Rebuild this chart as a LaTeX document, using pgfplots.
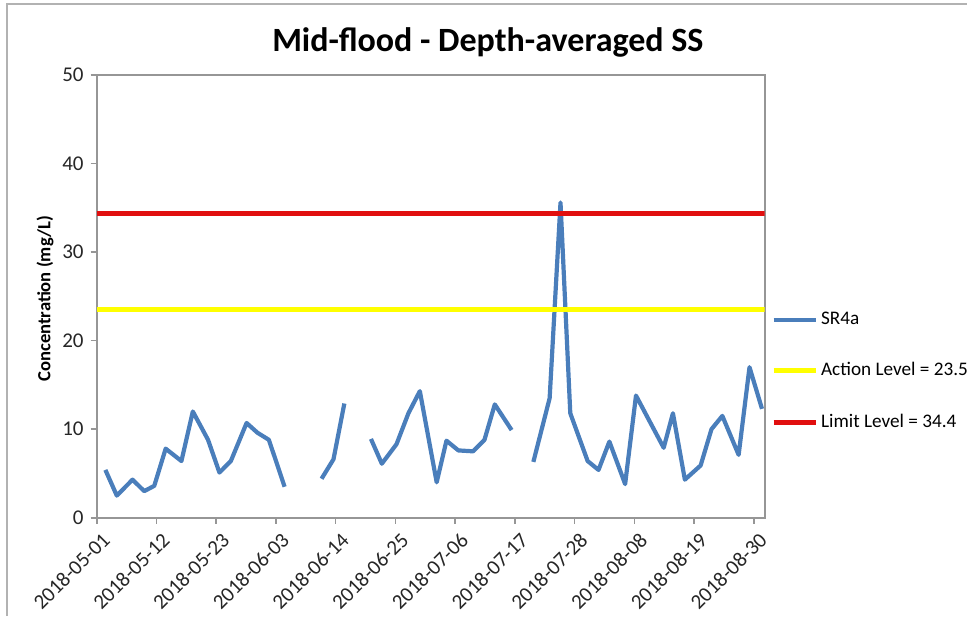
\documentclass[border=0pt]{standalone}
\usepackage{pgfplots}
\pgfplotsset{compat=1.18}
\usepackage{fontspec}
\setmainfont{Carlito}

\definecolor{srblue}{RGB}{74,126,187}
\definecolor{actyellow}{RGB}{255,255,0}
\definecolor{limred}{RGB}{225,15,15}
\definecolor{axgray}{RGB}{150,150,150}

\begin{document}
\begin{tikzpicture}
\begin{axis}[
    scale only axis,
    width=334pt, height=221.3pt,
    xmin=0, xmax=123,
    ymin=0, ymax=50,
    xtick={0,11,22,33,44,55,66,77,88,99,110,121},
    xticklabels={2018-05-01,2018-05-12,2018-05-23,2018-06-03,2018-06-14,2018-06-25,
                 2018-07-06,2018-07-17,2018-07-28,2018-08-08,2018-08-19,2018-08-30},
    ytick={0,10,20,30,40,50},
    tick align=outside,
    major tick length=3pt,
    xtick pos=bottom, ytick pos=left,
    axis line style={axgray, line width=0.8pt},
    tick style={axgray, line width=0.8pt},
    /pgf/number format/assume math mode=true,
    ticklabel style={font=\fontsize{10.5}{12}\selectfont, text=black!85},
    xticklabel style={rotate=45, anchor=north east, inner sep=1pt, yshift=-3pt},
    ylabel={Concentration (mg/L)},
    ylabel style={at={(axis description cs:-0.0775,0.495)}, anchor=center,
                  font=\bfseries\fontsize{9.3}{11}\selectfont},
    unbounded coords=jump,
    legend style={at={(1.0,0.331)}, anchor=west, draw=none, fill=none,
                  font=\fontsize{9.6}{11}\selectfont, row sep=13.5pt,
                  nodes={inner xsep=1.5pt}},
    legend cell align=left,
    legend image code/.code={\draw[#1] (0pt,0pt) -- (21pt,0pt);},
]
\addplot[srblue, line width=2.1pt, line join=round] coordinates {
    (1.6,5.4)(3.7,2.5)(6.6,4.3)(8.75,3.0)(10.6,3.6)(12.7,7.8)(15.6,6.4)
    (17.7,12.0)(20.5,8.8)(22.6,5.1)(24.7,6.4)(27.6,10.7)(29.6,9.6)(31.7,8.8)
    (34.6,3.5)(37.5,nan)
    (41.4,4.4)(43.6,6.6)(45.6,12.9)(48,nan)
    (50.5,8.9)(52.5,6.1)(55.2,8.3)(57.4,11.8)(59.5,14.3)(62.6,4.0)(64.4,8.7)
    (66.6,7.6)(69.3,7.5)(71.4,8.8)(73.3,12.8)(76.4,9.9)(78.5,nan)
    (80.4,6.3)(83.4,13.5)(85.4,35.6)(87.2,11.8)(90.4,6.4)(92.4,5.4)(94.4,8.6)
    (97.3,3.8)(99.3,13.8)(101.8,10.9)(104.4,7.9)(106.1,11.8)(108.3,4.3)
    (111.2,5.9)(113.2,10.0)(115.2,11.5)(118.2,7.1)(120.2,17.0)(122.5,12.3)
};
\addlegendentry{SR4a}
\addplot[actyellow, line width=2.5pt] coordinates {(0,23.5)(123,23.5)};
\addlegendentry{Action Level = 23.5}
\addplot[limred, line width=2.5pt] coordinates {(0,34.4)(123,34.4)};
\addlegendentry{Limit Level = 34.4}
\end{axis}
\node[font=\bfseries\fontsize{17}{20}\selectfont] at (195.6pt,237.4pt) {Mid-flood - Depth-averaged SS};
\draw[gray!60, line width=0.8pt] (-44.85pt,-49.15pt) -- (-44.85pt,256.85pt) -- (435.15pt,256.85pt);
\pgfresetboundingbox
\useasboundingbox (-48.35pt,-49.15pt) rectangle (435.15pt,258.85pt);
\end{tikzpicture}
\end{document}
